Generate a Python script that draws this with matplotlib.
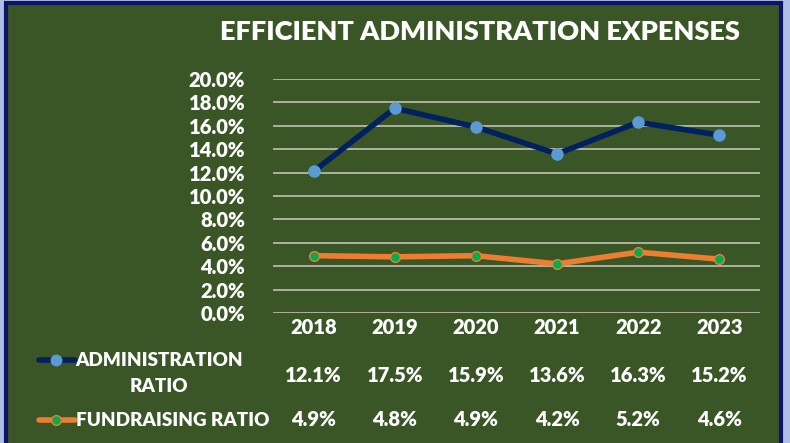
import matplotlib

matplotlib.use("Agg")
import matplotlib.pyplot as plt
from matplotlib.patches import Rectangle
from matplotlib.lines import Line2D
from matplotlib.ticker import MultipleLocator, PercentFormatter

years = ["2018", "2019", "2020", "2021", "2022", "2023"]
admin_ratio = [12.1, 17.5, 15.9, 13.6, 16.3, 15.2]
fundraising_ratio = [4.9, 4.8, 4.9, 4.2, 5.2, 4.6]

BG_OUTER = "#aebfe6"
PANEL = "#3a5626"
NAVY = "#002060"
ADMIN_MARK = "#5b9bd5"
ORANGE = "#ed7d31"
FUND_MARK = "#00b050"
GRID = "#b5b9a8"
FS = 14.5
FS_LABEL = 13.6

plt.rcParams["font.family"] = ["Lato", "DejaVu Sans"]
plt.rcParams["font.weight"] = "heavy"

W, H = 790, 443
fig = plt.figure(figsize=(W / 100, H / 100), dpi=100, facecolor=BG_OUTER)

# green panel with dark navy frame
fig.patches.append(Rectangle((6 / W, -0.05), 775 / W, 1.05 - 3 / H, transform=fig.transFigure,
                             facecolor=PANEL, edgecolor="#0b1466", linewidth=3, zorder=-5))

ax = fig.add_axes([273 / W, 1 - 313 / H, 487 / W, 234 / H])
ax.set_zorder(2)
ax.set_facecolor("none")
x = list(range(len(years)))

ax.plot(x, admin_ratio, color=NAVY, linewidth=4, marker="o", markersize=8,
        markerfacecolor=ADMIN_MARK, markeredgecolor=ADMIN_MARK, zorder=3)
ax.plot(x, fundraising_ratio, color=ORANGE, linewidth=4, marker="o", markersize=7,
        markerfacecolor=FUND_MARK, markeredgecolor=ORANGE, markeredgewidth=1, zorder=3)

ax.set_xlim(-0.5, len(years) - 0.5)
ax.set_ylim(0, 20)
ax.yaxis.set_major_locator(MultipleLocator(2))
ax.yaxis.set_major_formatter(PercentFormatter(decimals=1))
ax.grid(axis="y", color=GRID, linewidth=1.3)
ax.set_axisbelow(True)
for s in ax.spines.values():
    s.set_visible(False)
ax.tick_params(axis="y", length=0, pad=20, labelsize=FS, labelcolor="white")
for lab in ax.get_yticklabels():
    lab.set_fontweight("heavy")
ax.set_xticks([])

fig.text(480 / W, 1 - 32 / H, "EFFICIENT ADMINISTRATION EXPENSES", ha="center", va="center",
         color="white", fontsize=19.5, fontweight="heavy")

# data table under the plot
row_y = {"year": 328, "admin": 375, "fund": 420}
for i in x:
    xf = (273 + 487 * (i + 0.5) / len(years)) / W
    fig.text(xf, 1 - row_y["year"] / H, years[i], ha="center", va="center", color="white", fontsize=FS)
    fig.text(xf, 1 - row_y["admin"] / H, f"{admin_ratio[i]:.1f}%", ha="center", va="center",
             color="white", fontsize=FS)
    fig.text(xf, 1 - row_y["fund"] / H, f"{fundraising_ratio[i]:.1f}%", ha="center", va="center",
             color="white", fontsize=FS)

# legend keys
for yy, lc, mc, me, ms in [(360, NAVY, ADMIN_MARK, ADMIN_MARK, 7.5), (420, ORANGE, FUND_MARK, ORANGE, 7)]:
    fig.add_artist(Line2D([39 / W, 75 / W], [1 - yy / H] * 2, transform=fig.transFigure,
                          color=lc, linewidth=4, solid_capstyle="round"))
    fig.add_artist(Line2D([56 / W], [1 - yy / H], transform=fig.transFigure, marker="o",
                          markersize=ms, markerfacecolor=mc, markeredgecolor=me))

fig.text(159 / W, 1 - 360 / H, "ADMINISTRATION", ha="center", va="center", color="white", fontsize=FS_LABEL)
fig.text(159 / W, 1 - 386 / H, "RATIO", ha="center", va="center", color="white", fontsize=FS_LABEL)
fig.text(76 / W, 1 - 420 / H, "FUNDRAISING RATIO", ha="left", va="center", color="white", fontsize=FS_LABEL)

fig.savefig("out.png", dpi=100, facecolor=BG_OUTER)
